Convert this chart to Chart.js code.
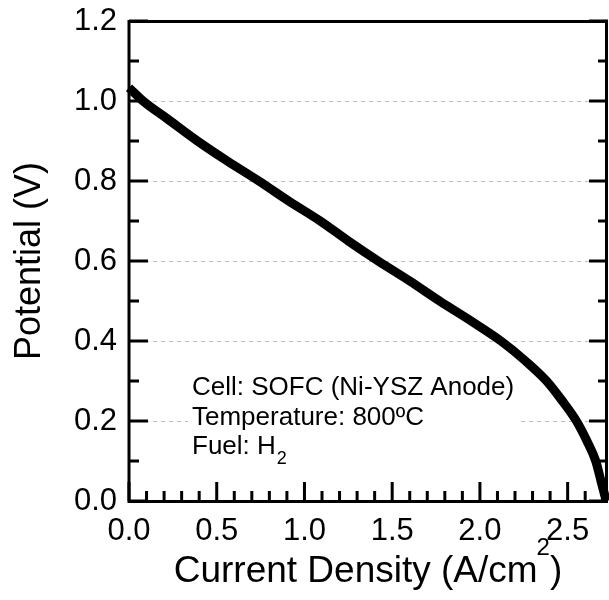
<!DOCTYPE html>
<html>
<head>
<meta charset="utf-8">
<script src="https://cdn.jsdelivr.net/npm/chart.js@4"></script>
<style>
  html, body { margin: 0; padding: 0; background: #fff; }
</style>
</head>
<body>
<canvas id="myChart" width="609" height="600"></canvas>
<script>
// polarisation curve
const currentDensity = [0.00, 0.08, 0.22, 0.39, 0.56, 0.74, 0.91, 1.09, 1.25, 1.42, 1.60, 1.77, 1.95, 2.12, 2.26, 2.38, 2.47, 2.55, 2.61, 2.66, 2.69, 2.72];
const potential = [1.033, 1.00, 0.955, 0.90, 0.85, 0.80, 0.75, 0.70, 0.65, 0.60, 0.55, 0.50, 0.45, 0.40, 0.35, 0.30, 0.25, 0.20, 0.15, 0.10, 0.05, 0.00];

const xTickLabels = ['0.0', '0.5', '1.0', '1.5', '2.0', '2.5'];
const yTickLabels = ['0.0', '0.2', '0.4', '0.6', '0.8', '1.0', '1.2'];
const xTitle = ['Current Density (A/cm', '2', ')'];
const noteLines = ['Cell: SOFC (Ni-YSZ Anode)', 'Temperature: 800ºC', 'Fuel: H'];
const noteSub = '2';

const FONT = '"Liberation Sans", Arial, sans-serif';

const points = currentDensity.map((x, i) => ({ x: x, y: potential[i] }));

// frame, inward ticks, note box and the x title with its superscript
const framePlugin = {
	id: 'frame',
	beforeDatasetsDraw(chart) {
		const { ctx, chartArea: a, scales } = chart;
		const x = scales.x;
		const y = scales.y;
		ctx.save();

		// note box hides the grid behind the text
		ctx.fillStyle = '#fff';
		ctx.fillRect(188, 362, 331, 106);
		ctx.fillStyle = '#000';
		ctx.font = '26px ' + FONT;
		ctx.textBaseline = 'alphabetic';
		ctx.textAlign = 'left';
		ctx.fillText(noteLines[0], 192, 395);
		ctx.fillText(noteLines[1], 192, 425);
		ctx.fillText(noteLines[2], 192, 454);
		const w = ctx.measureText(noteLines[2]).width;
		ctx.font = '18px ' + FONT;
		ctx.fillText(noteSub, 192 + w + 1, 464);

		// x title
		ctx.font = '37px ' + FONT;
		const w1 = ctx.measureText(xTitle[0]).width;
		const w3 = ctx.measureText(xTitle[2]).width;
		ctx.font = '24px ' + FONT;
		const w2 = ctx.measureText(xTitle[1]).width;
		let tx = (a.left + a.right) / 2 - (w1 + w2 + w3) / 2;
		ctx.font = '37px ' + FONT;
		ctx.fillText(xTitle[0], tx, 582);
		ctx.font = '24px ' + FONT;
		ctx.fillText(xTitle[1], tx + w1 - 1, 555);
		ctx.font = '37px ' + FONT;
		ctx.fillText(xTitle[2], tx + w1 + w2 - 1, 582);

		ctx.strokeStyle = '#000';
		ctx.lineWidth = 3;
		ctx.strokeRect(a.left, a.top + 0.5, a.right - a.left - 1.5, a.bottom - a.top);

		ctx.beginPath();
		for (let i = 0; i <= 12; i++) {
			const py = y.getPixelForValue(i / 10);
			const len = i % 2 === 0 ? 19 : 10;
			ctx.moveTo(a.left, py);
			ctx.lineTo(a.left + len, py);
			ctx.moveTo(a.right, py);
			ctx.lineTo(a.right - len, py);
		}
		for (let i = 0; i <= 27; i++) {
			const px = x.getPixelForValue(i / 10);
			const len = i % 5 === 0 ? 19 : 10;
			ctx.moveTo(px, a.bottom);
			ctx.lineTo(px, a.bottom - len);
		}
		ctx.stroke();
		ctx.restore();
	},
};

const ctx = document.getElementById('myChart');
const myChart = new Chart(ctx, {
	type: 'line',
	data: {
		datasets: [
			{
				label: 'Potential',
				data: points,
				borderColor: '#000',
				backgroundColor: '#000',
				borderWidth: 9,
				pointRadius: 0,
				cubicInterpolationMode: 'monotone',
				clip: false,
			},
		],
	},
	options: {
		responsive: false,
		animation: false,
		layout: { padding: { top: 21, right: 1, left: 0, bottom: 0 } },
		plugins: { legend: { display: false }, tooltip: { enabled: false } },
		scales: {
			x: {
				type: 'linear',
				min: 0,
				max: 2.73,
				afterFit: (scale) => {
					scale.height = 99;
					scale.paddingLeft = 0;
					scale.paddingRight = 0;
				},
				grid: { display: false },
				border: { display: false },
				ticks: {
					stepSize: 0.1,
					includeBounds: false,
					autoSkip: false,
					maxRotation: 0,
					padding: 4,
					color: '#000',
					font: { family: FONT, size: 31 },
					callback: (value) => {
						const s = value.toFixed(1);
						return xTickLabels.includes(s) ? s : '';
					},
				},
			},
			y: {
				min: 0,
				max: 1.2,
				afterFit: (scale) => {
					scale.width = 129;
					scale.paddingTop = 0;
					scale.paddingBottom = 0;
				},
				grid: {
					color: '#bdbdbd',
					lineWidth: 1,
					drawTicks: false,
				},
				border: { display: false, dash: [4, 4] },
				ticks: {
					stepSize: 0.1,
					padding: 12,
					color: '#000',
					font: { family: FONT, size: 31 },
					callback: (value) => {
						const s = value.toFixed(1);
						return yTickLabels.includes(s) ? s : '';
					},
				},
				title: {
					display: true,
					text: 'Potential (V)',
					color: '#000',
					font: { family: FONT, size: 36 },
					padding: { top: 8, bottom: 0 },
				},
			},
		},
	},
	plugins: [framePlugin],
});
</script>
</body>
</html>
